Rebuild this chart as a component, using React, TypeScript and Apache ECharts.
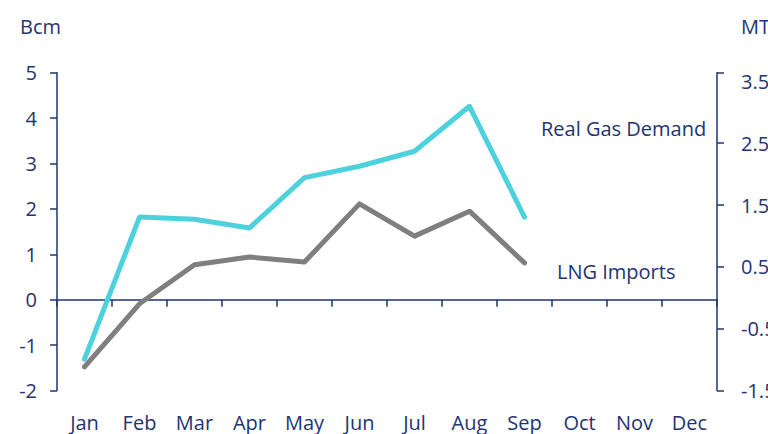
import React, { useEffect, useRef } from "react";
import * as echarts from "echarts";

const months = ["Jan", "Feb", "Mar", "Apr", "May", "Jun", "Jul", "Aug", "Sep", "Oct", "Nov", "Dec"];
const realGasDemand = [-1.31, 1.82, 1.77, 1.58, 2.69, 2.94, 3.27, 4.26, 1.82];
const lngImports = [-1.48, -0.09, 0.77, 0.94, 0.83, 2.11, 1.4, 1.95, 0.81];
const leftMin = -2;
const leftMax = 5;
const rightLabelBase = -1.5; // MT value at bottom of right axis
const rightSpan = 5.14; // MT span of right axis
const rightLabelSteps = [0, 1, 2, 3, 4, 5];
const rightTickSteps = [0, 1, 2, 3, 4, rightSpan];

const NAVY = "#1f3470";
const FONT = "Open Sans";
const FS = 20;

export default function App() {
  const ref = useRef<HTMLDivElement>(null);
  useEffect(() => {
    if (!ref.current) return;
    const chart = echarts.init(ref.current, undefined, { renderer: "svg" });
    const textStyle = { fontFamily: FONT, fontSize: FS, color: NAVY };
    chart.setOption({
      animation: false,
      backgroundColor: "#ffffff",
      grid: {
        left: 57,
        right: 51,
        top: 72.7,
        bottom: 43.5,
        containLabel: false,
        outerBoundsMode: "none",
      },
      xAxis: [
        {
          type: "category",
          data: months,
          boundaryGap: true,
          axisLine: { onZero: true, lineStyle: { color: NAVY, width: 1.5 } },
          axisTick: { show: true, length: 7, lineStyle: { color: NAVY, width: 1.5 } },
          axisLabel: { show: false },
          splitLine: { show: false },
        },
        {
          type: "category",
          data: months,
          position: "bottom",
          boundaryGap: true,
          axisLine: { show: false, onZero: false },
          axisTick: { show: false },
          axisLabel: { ...textStyle, margin: 22 },
          splitLine: { show: false },
        },
      ],
      yAxis: [
        {
          type: "value",
          min: leftMin,
          max: leftMax,
          interval: 1,
          position: "left",
          axisLine: { show: true, lineStyle: { color: NAVY, width: 1.5 } },
          axisTick: { show: true, length: 7, lineStyle: { color: NAVY, width: 1.5 } },
          axisLabel: { ...textStyle, margin: 20 },
          splitLine: { show: false },
        },
        {
          type: "value",
          min: 0,
          max: rightSpan,
          interval: 1,
          position: "right",
          axisLine: { show: true, onZero: false, lineStyle: { color: NAVY, width: 1.5 } },
          axisTick: {
            show: true,
            length: 7,
            customValues: rightTickSteps,
            lineStyle: { color: NAVY, width: 1.5 },
          },
          axisLabel: {
            ...textStyle,
            margin: 24,
            customValues: rightLabelSteps,
            formatter: (v: number) => (v + rightLabelBase).toFixed(1),
          },
          splitLine: { show: false },
        },
      ],
      series: [
        {
          name: "Real Gas Demand",
          type: "line",
          xAxisIndex: 0,
          yAxisIndex: 0,
          data: realGasDemand,
          symbol: "none",
          lineStyle: { color: "#4dd2dd", width: 5, cap: "round", join: "round" },
          z: 3,
        },
        {
          name: "LNG Imports",
          type: "line",
          xAxisIndex: 0,
          yAxisIndex: 0,
          data: lngImports,
          symbol: "none",
          lineStyle: { color: "#7f7f7f", width: 5, cap: "round", join: "round" },
          z: 2,
        },
      ],
      graphic: [
        { type: "text", left: 20, top: 16, style: { text: "Bcm", font: `${FS}px "${FONT}"`, fill: NAVY } },
        { type: "text", left: 741, top: 16, style: { text: "MT", font: `${FS}px "${FONT}"`, fill: NAVY } },
        { type: "text", left: 541, top: 118, style: { text: "Real Gas Demand", font: `${FS}px "${FONT}"`, fill: NAVY } },
        { type: "text", left: 557, top: 261, style: { text: "LNG Imports", font: `${FS}px "${FONT}"`, fill: NAVY } },
      ],
    });
    return () => chart.dispose();
  }, []);
  return <div ref={ref} style={{ width: 768, height: 434, position: "absolute", left: 0, top: 0 }} />;
}
